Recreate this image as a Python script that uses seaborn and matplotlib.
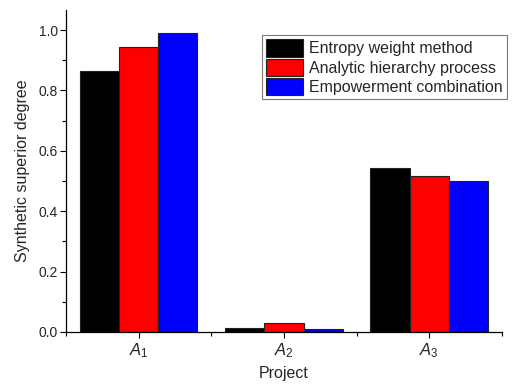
import pandas as pd
import seaborn as sns
import matplotlib.pyplot as plt
from matplotlib.ticker import MultipleLocator

# Data
projects = ['A1', 'A2', 'A3']
tick_labels = ['$A_1$', '$A_2$', '$A_3$']
methods = ['Entropy weight method', 'Analytic hierarchy process', 'Empowerment combination']
entropy = [0.866, 0.012, 0.542]
ahp = [0.945, 0.030, 0.518]
combination = [0.989, 0.010, 0.500]
colors = ['#000000', '#ff0000', '#0000ff']

df = pd.DataFrame({
    'Project': projects * 3,
    'Method': [m for m in methods for _ in projects],
    'Value': entropy + ahp + combination,
})

sns.set_theme(style="ticks")
plt.rcParams['font.family'] = ['Liberation Sans', 'DejaVu Sans']
plt.rcParams['mathtext.fontset'] = 'custom'
plt.rcParams['mathtext.it'] = 'Liberation Sans:italic'
plt.rcParams['mathtext.rm'] = 'Liberation Sans'

fig = plt.figure(figsize=(5.12, 3.9), dpi=100)
ax = fig.add_axes([0.129, 0.149, 0.851, 0.825])

sns.barplot(data=df, x='Project', y='Value', hue='Method', palette=colors,
            width=0.81, gap=0, edgecolor='#222222', linewidth=0.8, saturation=1, ax=ax)

ax.set_xlim(-0.5, 2.5)
ax.set_ylim(0, 1.066)
ax.yaxis.set_major_locator(MultipleLocator(0.2))
ax.yaxis.set_minor_locator(MultipleLocator(0.1))
ax.set_xticks([0, 1, 2])
ax.set_xticklabels(tick_labels, fontsize=12)
ax.set_xticks([-0.5, 0.5, 1.5, 2.5], minor=True)
ax.tick_params(axis='y', labelsize=10, length=4, width=0.8, color='black', pad=2)
ax.tick_params(axis='x', length=4, width=0.8, color='black', pad=3)
ax.tick_params(which='minor', length=3, width=0.8, color='black')
ax.set_ylabel('Synthetic superior degree', fontsize=11.5, labelpad=6)
ax.set_xlabel('Project', fontsize=11.5, labelpad=4)

sns.despine(ax=ax, top=True, right=True)
for s in ['left', 'bottom']:
    ax.spines[s].set_color('black')
    ax.spines[s].set_linewidth(0.9)

leg = ax.legend(loc='upper left', bbox_to_anchor=(0.45, 0.922), fontsize=11.5,
                frameon=True, fancybox=False, edgecolor='#555555',
                handlelength=2.3, handleheight=1.3, handletextpad=0.4,
                labelspacing=0.12, borderpad=0.25, borderaxespad=0)
leg.get_frame().set_linewidth(0.8)

fig.savefig('out.png', dpi=100)
